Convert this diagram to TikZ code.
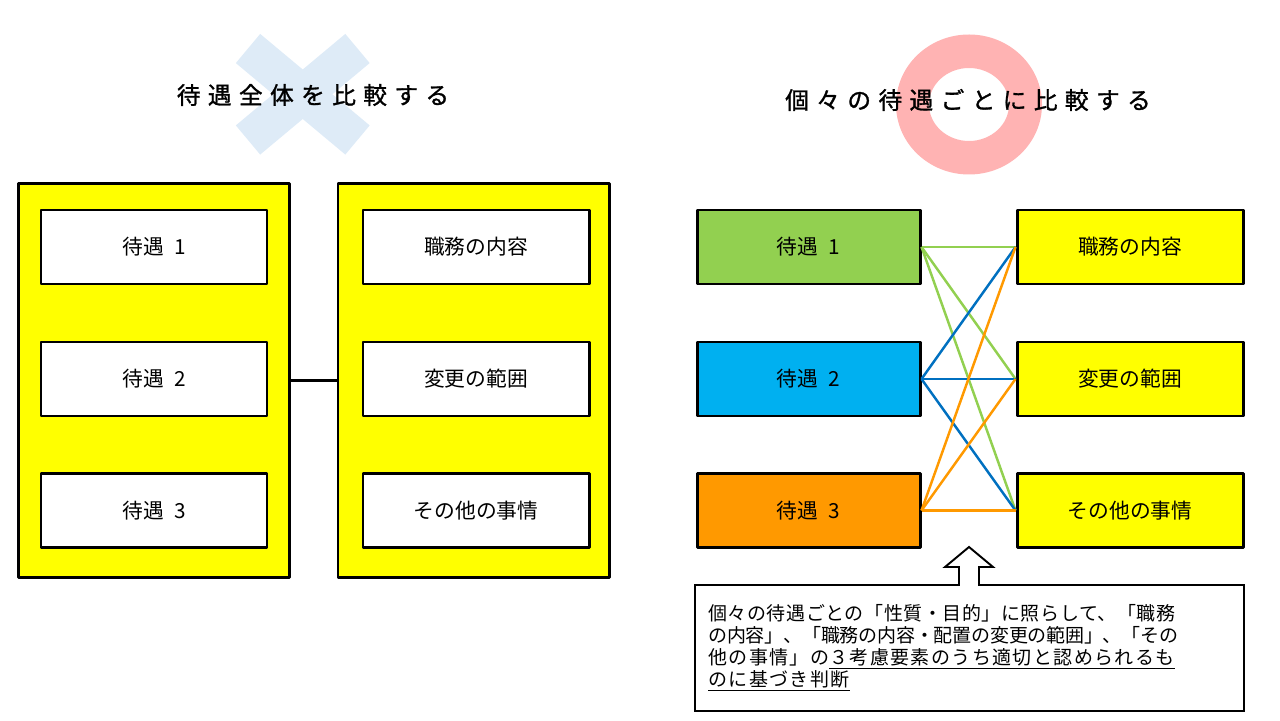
\documentclass[tikz,border=0pt]{standalone}
\usepackage{fontspec}
\setmainfont{Noto Sans CJK JP}
\newfontfamily\titlefont[LetterSpace=31, FakeBold=1.2]{Noto Sans CJK JP}
\newfontfamily\notefont[LetterSpace=3]{Noto Sans CJK JP}
\definecolor{crossblue}{HTML}{DEEBF7}
\definecolor{ringpink}{HTML}{FFB3B3}
\definecolor{boxyellow}{HTML}{FFFF00}
\definecolor{boxgreen}{HTML}{92D050}
\definecolor{boxcyan}{HTML}{00B0F0}
\definecolor{boxorange}{HTML}{FF9900}
\definecolor{lineblue}{HTML}{0070C0}

\begin{document}
\begin{tikzpicture}[
    panel/.style={draw, line width=1.7pt, line join=round, fill=boxyellow,
      minimum width=5.42cm, minimum height=7.88cm, inner sep=0pt},
    item/.style={draw, line width=1.7pt, line join=round, fill=white,
      minimum width=4.52cm, minimum height=1.48cm, inner sep=0pt,
      font=\fontsize{11.8pt}{14pt}\selectfont},
    title/.style={font=\titlefont\fontsize{13.5pt}{15pt}\selectfont},
    link/.style={line width=1.4pt}
  ]
\useasboundingbox (0,0) rectangle (25.6,14.4);

% marks behind the titles
\draw[crossblue, line width=0.76cm] (4.96,13.43) -- (7.15,11.6);
\draw[crossblue, line width=0.76cm] (7.15,13.43) -- (4.96,11.6);
\fill[ringpink, even odd rule] (19.38,12.31) ellipse [x radius=1.46, y radius=1.40]
  (19.38,12.31) ellipse [x radius=0.80, y radius=0.73];

\node[title] (ttlA) at (6.26,12.5) {待遇全体を比較する};
\node[title] (ttlB) at (19.36,12.4) {個々の待遇ごとに比較する};

% whole comparison
\node[panel] (pA) at (3.08,6.79) {};
\node[panel] (pB) at (9.47,6.79) {};
\draw[line width=1.7pt] (pA.east) -- (pB.west);

\node[item] (a1) at (3.08,9.46) {待遇\hspace{0.5em}1};
\node[item] (a2) at (3.08,6.82) {待遇\hspace{0.5em}2};
\node[item] (a3) at (3.08,4.19) {待遇\hspace{0.5em}3};

\node[item] (b1) at (9.52,9.46) {職務の内容};
\node[item] (b2) at (9.52,6.82) {変更の範囲};
\node[item] (b3) at (9.52,4.19) {その他の事情};

% each treatment
\node[item, fill=boxgreen, minimum width=4.46cm] (t1) at (16.17,9.46) {待遇\hspace{0.5em}1};
\node[item, fill=boxcyan, minimum width=4.46cm] (t2) at (16.17,6.82) {待遇\hspace{0.5em}2};
\node[item, fill=boxorange, minimum width=4.46cm] (t3) at (16.17,4.19) {待遇\hspace{0.5em}3};

\node[item, fill=boxyellow] (f1) at (22.6,9.46) {職務の内容};
\node[item, fill=boxyellow] (f2) at (22.6,6.82) {変更の範囲};
\node[item, fill=boxyellow] (f3) at (22.6,4.19) {その他の事情};

\foreach \j in {1,2,3}
  \draw[link, boxgreen] (t1.east) -- (f\j.west);
\foreach \j in {1,2,3}
  \draw[link, lineblue] (t2.east) -- (f\j.west);
\foreach \j in {1,2,3}
  \draw[link, boxorange] (t3.east) -- (f\j.west);

% note with arrow
\draw[line width=1.1pt, line join=miter] (13.9,2.7) -- (19.18,2.7) -- (19.18,3.06)
  -- (18.9,3.06) -- (19.38,3.46) -- (19.86,3.06) -- (19.58,3.06) -- (19.58,2.7)
  -- (24.88,2.7) -- (24.88,0.18) -- (13.9,0.18) -- cycle;
\node[anchor=west, align=left, inner sep=0pt,
  font=\notefont\fontsize{10.8pt}{12.5pt}\selectfont] (note) at (14.16,1.44)
{個々の待遇ごとの「性質・目的」に照らして、「職務\\
{\addfontfeature{LetterSpace=-1}の内容」、「職務の内容・配置の変更の範囲」、「その}\\
{\addfontfeature{LetterSpace=7.5}他の事情」の\underline{３考慮要素のうち適切と認められるも}}\\
{\addfontfeature{LetterSpace=7.5}\underline{のに基づき判断}}};

\end{tikzpicture}
\end{document}
